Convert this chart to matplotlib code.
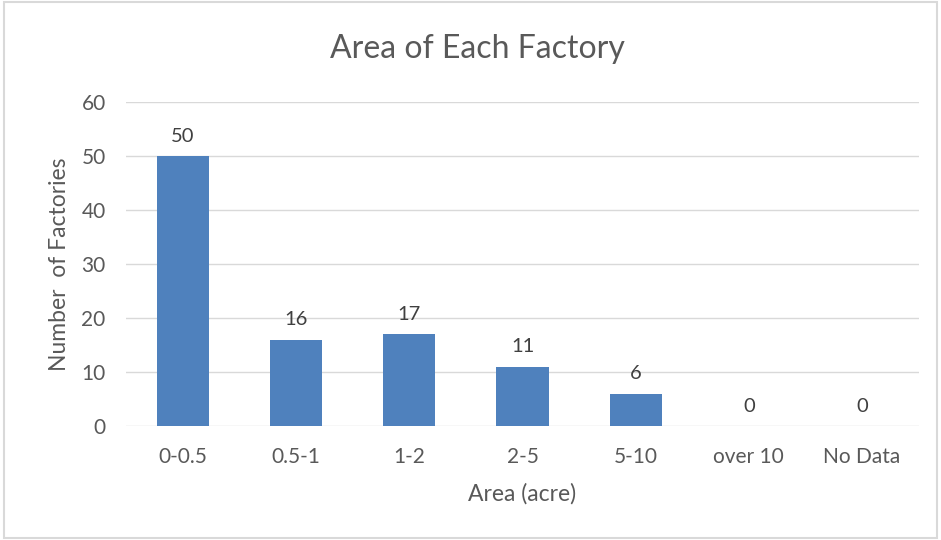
import matplotlib.pyplot as plt
import numpy as np
from matplotlib.patches import Rectangle

categories = ["0-0.5", "0.5-1", "1-2", "2-5", "5-10", "over 10", "No Data"]
counts = [50, 16, 17, 11, 6, 0, 0]
yticks = [0, 10, 20, 30, 40, 50, 60]

plt.rcParams['font.family'] = ['Lato', 'DejaVu Sans']
text_color = '#595959'

fig = plt.figure(figsize=(9.41, 5.4), dpi=100)
ax = fig.add_axes([126.5 / 941, 1 - 426 / 540, 792 / 941, 324 / 540])

x = np.arange(len(categories))
ax.bar(x, counts, width=0.46, color='#4f81bd', zorder=3)
for xi, c in zip(x, counts):
    ax.annotate(str(c), (xi, c), xytext=(0, 8), textcoords='offset points',
                ha='center', va='bottom', fontsize=14.5, color='#404040')

ax.set_xlim(-0.5, len(categories) - 0.5)
ax.set_ylim(0, 60)
ax.set_yticks(yticks)
ax.set_xticks(x)
ax.set_xticklabels(categories)
ax.tick_params(axis='both', length=0, labelsize=15, labelcolor=text_color)
ax.tick_params(axis='x', pad=15)
ax.tick_params(axis='y', pad=15)
ax.grid(axis='y', color='#d9d9d9', linewidth=1, zorder=0)
for s in ax.spines.values():
    s.set_visible(False)

ax.set_xlabel("Area (acre)", fontsize=16.5, color=text_color, labelpad=12)
ax.set_ylabel("Number  of Factories", fontsize=16.5, color=text_color, labelpad=8)
fig.text(477 / 941, 1 - 49 / 540, "Area of Each Factory",
         ha='center', va='center', fontsize=23, color=text_color)

fig.patches.append(Rectangle((0.004, 0.004), 0.992, 0.992, transform=fig.transFigure,
                             fill=False, edgecolor='#d9d9d9', linewidth=1.5))

fig.savefig("out.png", dpi=100)
